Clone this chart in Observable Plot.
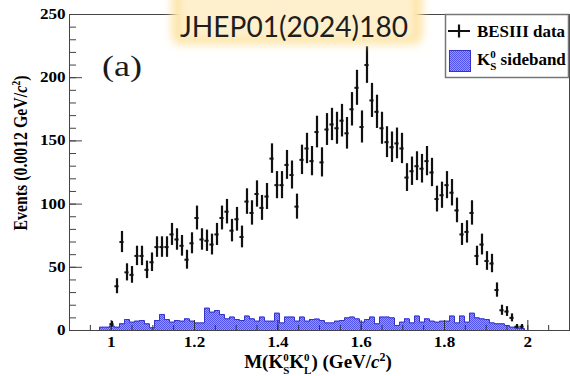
<!DOCTYPE html>
<html><head><meta charset="utf-8">
<script src="https://cdn.jsdelivr.net/npm/d3@7"></script>
<script src="https://cdn.jsdelivr.net/npm/@observablehq/plot@0.6"></script>
<style>
html,body{margin:0;padding:0;background:#fff;}
#chart{width:570px;height:376px;position:relative;}
</style></head><body><div id="chart"></div>
<script>
// Binning (GeV/c^2)
const binStart = 0.972;
const binWidth = 0.012;
const dataFirstBin = 2;

// BESIII data: events per bin (first point at bin index dataFirstBin)
const dataCounts = [5, 35, 70, 46, 44, 59, 59, 48, 54, 66,
  66, 66, 76, 72, 67, 56, 69, 89, 72, 71,
  68, 76, 89, 94, 79, 88, 74, 102, 93, 108,
  97, 106, 136, 115, 115, 131, 123, 98, 135, 144,
  134, 157, 133, 159, 163, 160, 166, 156, 175, 192,
  161, 210, 182, 173, 160, 149, 145, 148, 144, 121,
  126, 130, 128, 134, 125, 104, 107, 115, 109, 95,
  76, 78, 93, 59, 68, 55, 53, 32, 16, 15,
  10, 3, 3];

// K_S^0 sideband histogram (bins from binStart)
const sidebandCounts = [2.6, 2.6, 3.5, 2.6, 5.3, 8.7, 6.6, 7.4, 7.9, 5.3,
  2.1, 7.9, 12.7, 8.7, 6.6, 7.9, 7.4, 9.2, 7.4, 6.0,
  6.0, 17.7, 14.5, 15.8, 12.7, 9.2, 10.6, 8.7, 7.9, 11.4,
  9.2, 7.4, 10.6, 7.4, 7.4, 13.7, 6.0, 10.6, 10.6, 7.4,
  10.6, 7.4, 8.7, 9.0, 7.9, 6.0, 6.0, 7.4, 7.9, 10.0,
  10.6, 9.2, 6.6, 8.7, 10.6, 5.3, 10.6, 10.6, 10.0, 4.0,
  6.6, 9.2, 6.0, 11.4, 6.6, 9.2, 7.4, 6.6, 7.4, 7.4,
  11.4, 6.0, 11.4, 6.6, 13.7, 10.0, 9.2, 8.7, 6.0, 5.3,
  5.3, 4.0, 2.6, 2.0, 1.6];

const xTickLabels = [1, 1.2, 1.4, 1.6, 1.8, 2];
const xMinorTicks = [0.9, 0.95, 1, 1.05, 1.1, 1.15, 1.2, 1.25, 1.3, 1.35, 1.4, 1.45, 1.5,
  1.55, 1.6, 1.65, 1.7, 1.75, 1.8, 1.85, 1.9, 1.95, 2, 2.05, 2.1];
const yTickLabels = [0, 50, 100, 150, 200, 250];
const yMinorTicks = [0, 10, 20, 30, 40, 50, 60, 70, 80, 90, 100, 110, 120, 130, 140, 150,
  160, 170, 180, 190, 200, 210, 220, 230, 240, 250];

const points = dataCounts.map((n, k) => ({
  x: binStart + (k + dataFirstBin + 0.5) * binWidth, n, err: Math.sqrt(n)
}));
const nSb = sidebandCounts.length;
const histStep = [{x: binStart, y: 0}]
  .concat(sidebandCounts.map((v, j) => ({x: binStart + j * binWidth, y: v})))
  .concat([{x: binStart + nSb * binWidth, y: sidebandCounts[nSb - 1]}, {x: binStart + nSb * binWidth, y: 0}]);

const serif = "'Liberation Serif', 'Times New Roman', serif";
const blank = () => "";

const chart = Plot.plot({
  width: 570, height: 376,
  marginLeft: 69, marginRight: 1, marginTop: 14, marginBottom: 46,
  style: {background: "white", color: "black", fontFamily: serif, fontSize: "14px", fontWeight: "bold"},
  x: {domain: [0.9, 2.1]},
  y: {domain: [0, 250]},
  marks: [
    Plot.areaY(histStep, {x: "x", y: "y", curve: "step-after", fill: "url(#sbPattern)"}),
    Plot.lineY(histStep, {x: "x", y: "y", curve: "step-after", stroke: "#3434c8", strokeWidth: 1}),
    Plot.ruleY([0], {stroke: "#3c3cc8", strokeWidth: 1.2}),
    Plot.axisX({ticks: xMinorTicks, tickSize: -5, tickFormat: blank, label: null, stroke: "#333"}),
    Plot.axisX({ticks: xTickLabels, tickSize: -10, tickFormat: blank, label: null, stroke: "#333"}),
    Plot.axisX({ticks: xTickLabels, tickSize: 0, tickPadding: 7, tickFormat: d => String(d), label: null}),
    Plot.axisY({ticks: yMinorTicks, tickSize: -7, tickFormat: blank, label: null, stroke: "#444"}),
    Plot.axisY({ticks: yTickLabels, tickSize: -13, tickFormat: blank, label: null, stroke: "#444"}),
    Plot.axisY({ticks: yTickLabels, tickSize: 0, tickPadding: 4, tickFormat: d => String(d), label: null}),
    Plot.frame({stroke: "#444"}),
    Plot.ruleX(points, {x: "x", y1: d => d.n - d.err, y2: d => d.n + d.err, stroke: "#111", strokeWidth: 2.2}),
    Plot.ruleY(points, {y: "n", x1: d => d.x - 0.005, x2: d => d.x + 0.005, stroke: "#111", strokeWidth: 2})
  ]
});
document.getElementById("chart").appendChild(chart);

const svg = d3.select(chart);
const defs = svg.append("defs");
const pat = defs.append("pattern").attr("id", "sbPattern").attr("patternUnits", "userSpaceOnUse")
  .attr("width", 2).attr("height", 2);
pat.append("rect").attr("width", 2).attr("height", 2).attr("fill", "#9898ff");
pat.append("rect").attr("width", 1).attr("height", 1).attr("fill", "#5050ec");
pat.append("rect").attr("x", 1).attr("y", 1).attr("width", 1).attr("height", 1).attr("fill", "#5050ec");
const flt = defs.append("filter").attr("id", "glow").attr("x", "-30%").attr("y", "-60%").attr("width", "160%").attr("height", "220%");
flt.append("feGaussianBlur").attr("stdDeviation", 5);
const flt2 = defs.append("filter").attr("id", "glow2").attr("x", "-30%").attr("y", "-60%").attr("width", "160%").attr("height", "220%");
flt2.append("feGaussianBlur").attr("stdDeviation", 3);

// widen tick labels like the reference
svg.selectAll("g[aria-label$='tick label'] text").each(function() {
  const L = this.getComputedTextLength();
  if (L > 0) { this.setAttribute("textLength", L * 1.22); this.setAttribute("lengthAdjust", "spacingAndGlyphs"); }
});

// x title
const xt = svg.append("text").attr("x", 318).attr("y", 368).attr("text-anchor", "middle")
  .attr("font-family", serif).attr("font-weight", "bold").attr("font-size", 19).attr("fill", "black");
xt.append("tspan").text("M(K");
xt.append("tspan").attr("font-size", 11).attr("dy", -7).text("0");
xt.append("tspan").attr("font-size", 11).attr("dx", -5.5).attr("dy", 13).text("S");
xt.append("tspan").attr("dy", -6).text("K");
xt.append("tspan").attr("font-size", 11).attr("dy", -7).text("0");
xt.append("tspan").attr("font-size", 11).attr("dx", -5.5).attr("dy", 13).text("L");
xt.append("tspan").attr("dy", -6).text(") (GeV/");
xt.append("tspan").attr("font-style", "italic").text("c");
xt.append("tspan").attr("font-size", 12).attr("dy", -7).text("2");
xt.append("tspan").attr("dy", 7).text(")");

// y title
const yt = svg.append("text").attr("transform", "translate(27,153) rotate(-90)").attr("text-anchor", "middle")
  .attr("font-family", serif).attr("font-weight", "bold").attr("font-size", 19).attr("fill", "black")
  .attr("textLength", 155).attr("lengthAdjust", "spacingAndGlyphs");
yt.append("tspan").text("Events (0.0012 GeV/");
yt.append("tspan").attr("font-style", "italic").text("c");
yt.append("tspan").attr("font-size", 12).attr("dy", -7).text("2");
yt.append("tspan").attr("dy", 7).text(")");

// (a)
svg.append("text").attr("x", 102).attr("y", 76).attr("text-anchor", "start").attr("font-family", serif)
  .style("font-weight", "normal").attr("font-size", 29).attr("fill", "#1a1a1a")
  .attr("textLength", 40).attr("lengthAdjust", "spacingAndGlyphs").text("(a)");

// legend
const lg = svg.append("g");
lg.append("rect").attr("x", 445.5).attr("y", 14.5).attr("width", 123).attr("height", 63)
  .attr("fill", "white").attr("stroke", "#777").attr("stroke-width", 1.5);
lg.append("line").attr("x1", 448).attr("x2", 470).attr("y1", 31).attr("y2", 31).attr("stroke", "#111").attr("stroke-width", 2);
lg.append("line").attr("x1", 459).attr("x2", 459).attr("y1", 24.5).attr("y2", 37.5).attr("stroke", "#111").attr("stroke-width", 2.2);
lg.append("text").attr("x", 477).attr("y", 37).attr("text-anchor", "start").attr("font-family", serif)
  .attr("font-weight", "bold").attr("font-size", 17)
  .attr("fill", "black").attr("textLength", 88).attr("lengthAdjust", "spacingAndGlyphs").text("BESIII data");
lg.append("rect").attr("x", 449.5).attr("y", 50.5).attr("width", 21).attr("height", 21)
  .attr("fill", "url(#sbPattern)").attr("stroke", "#3434c8");
const l2 = lg.append("text").attr("x", 477).attr("y", 65).attr("text-anchor", "start").attr("font-family", serif)
  .attr("font-weight", "bold").attr("font-size", 17).attr("fill", "black");
l2.append("tspan").text("K");
l2.append("tspan").attr("font-size", 11).attr("dy", -7).text("0");
l2.append("tspan").attr("font-size", 11).attr("dx", -5.5).attr("dy", 12).text("S");
l2.append("tspan").attr("dy", -5).text(" sideband");

// watermark
const wm = svg.append("g");
wm.append("rect").attr("x", 172).attr("y", -12).attr("width", 250).attr("height", 56).attr("rx", 8)
  .attr("fill", "#fde3a2").attr("filter", "url(#glow)");
wm.append("rect").attr("x", 180).attr("y", -6).attr("width", 234).attr("height", 44).attr("rx", 6)
  .attr("fill", "#fef0cc").attr("filter", "url(#glow2)");
wm.append("text").attr("x", 294).attr("y", 37).attr("text-anchor", "middle")
  .attr("font-family", "Lato, 'Open Sans', sans-serif").style("font-weight", "normal")
  .attr("font-size", 28).attr("fill", "#1e1e1e")
  .attr("textLength", 228).attr("lengthAdjust", "spacingAndGlyphs").text("JHEP01(2024)180");
</script></body></html>
